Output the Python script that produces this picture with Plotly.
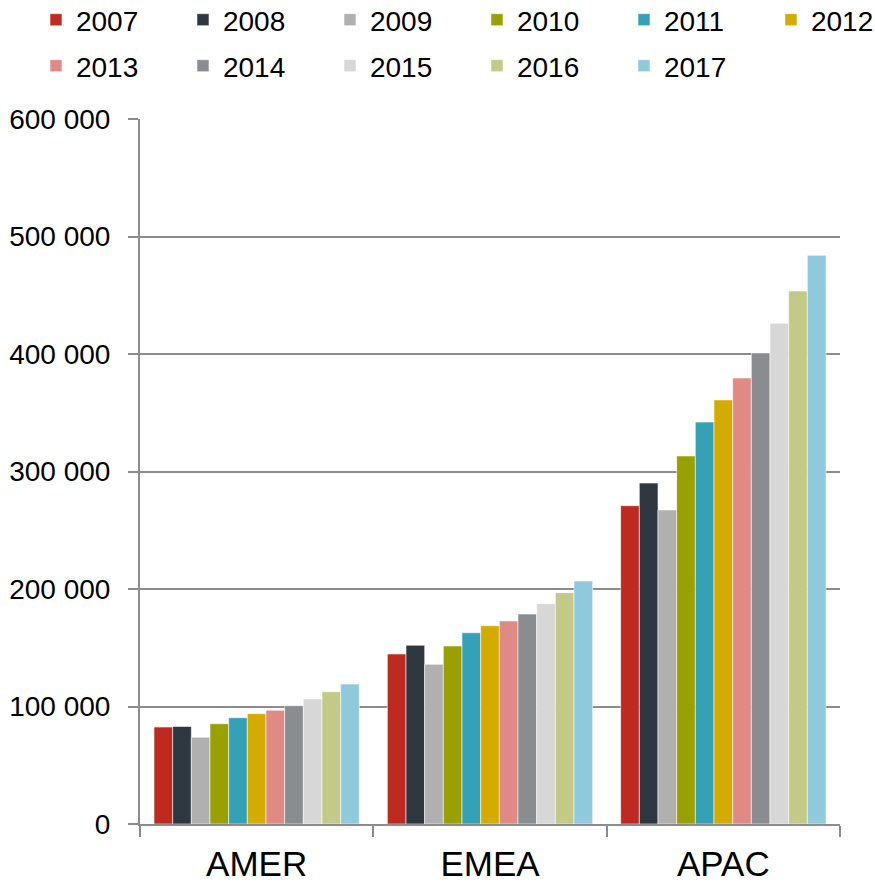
import plotly.graph_objects as go

# Regions on the category axis
regions = ["AMER", "EMEA", "APAC"]

# One series per year, values per region
years = ["2007", "2008", "2009", "2010", "2011", "2012",
         "2013", "2014", "2015", "2016", "2017"]

amer = [82500, 83000, 73800, 85300, 90500, 93900, 96800, 100700, 106400, 112600, 119100]
emea = [144700, 152100, 135900, 151500, 162800, 168800, 172800, 178700, 187500, 196900, 206800]
apac = [270900, 290200, 267200, 313200, 342100, 360900, 379600, 400900, 426100, 453600, 484000]

colors = ["#BE2A1F", "#2F3740", "#B0B0B0", "#98A100", "#34A1B7", "#D4AC00",
          "#E08A86", "#8A8D90", "#D7D7D7", "#C3C986", "#8FCADC"]

y_ticks = [0, 100000, 200000, 300000, 400000, 500000, 600000]

FONT = "Liberation Sans, Arial, sans-serif"
GRID = "#8C8C8C"

# Legend rows: first five years, the sixth on its own, then the second row
def legend_for(i):
    if i < 5:
        return "legend"
    if i == 5:
        return "legend3"
    return "legend2"

fig = go.Figure()
for i, yr in enumerate(years):
    fig.add_trace(go.Bar(
        name=yr,
        x=regions,
        y=[amer[i], emea[i], apac[i]],
        marker=dict(color=colors[i], line=dict(color="rgba(255,255,255,0.55)", width=1)),
        legend=legend_for(i),
    ))

legend_common = dict(
    orientation="h",
    xanchor="left",
    yanchor="middle",
    font=dict(family=FONT, size=28, color="#000000"),
    bgcolor="rgba(0,0,0,0)",
    itemwidth=30,
    entrywidth=102,
    entrywidthmode="pixels",
    traceorder="normal",
)

PLOT_W = 700
PLOT_H = 705
x0 = -0.1486
step = 147 / PLOT_W

fig.update_layout(
    width=875,
    height=885,
    margin=dict(l=140, r=35, t=119, b=61, autoexpand=False),
    paper_bgcolor="white",
    plot_bgcolor="white",
    barmode="group",
    bargap=0.12,
    bargroupgap=0,
    separators=". ",
    font=dict(family=FONT, size=28, color="#000000"),
    legend=dict(x=x0, y=(824 - 20) / PLOT_H, **legend_common),
    legend3=dict(x=x0 + 5 * step, y=(824 - 20) / PLOT_H, **legend_common),
    legend2=dict(x=x0, y=(824 - 66) / PLOT_H, **legend_common),
    xaxis=dict(
        showline=True,
        linecolor=GRID,
        linewidth=2,
        ticks="outside",
        tickson="boundaries",
        ticklen=11,
        tickwidth=2,
        tickcolor=GRID,
        ticklabelstandoff=8,
        tickfont=dict(family=FONT, size=35, color="#000000"),
        showgrid=False,
    ),
    yaxis=dict(
        range=[0, 600000],
        tickvals=y_ticks,
        tickformat=",d",
        showline=True,
        linecolor=GRID,
        linewidth=2,
        ticks="outside",
        ticklen=10,
        tickwidth=2,
        tickcolor=GRID,
        showgrid=True,
        gridcolor=GRID,
        gridwidth=2,
        zeroline=False,
        ticklabelstandoff=12,
        tickfont=dict(family=FONT, size=28, color="#000000"),
    ),
)

fig.write_html("out.html")
